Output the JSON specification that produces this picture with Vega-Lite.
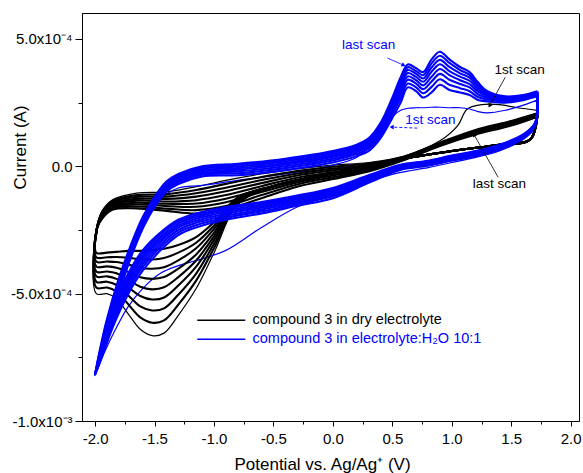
{
"$schema":"https://vega.github.io/schema/vega-lite/v6.json",
"width":497,"height":408,
"autosize":{"type":"none"},
"padding":{"left":82,"top":13,"right":4,"bottom":52},
"background":"white",
"config":{
"view":{"stroke":"black","strokeWidth":1},
"font":"Liberation Sans",
"axis":{"grid":false,"domainColor":"black","tickColor":"black","labelColor":"black","titleColor":"black","labelFont":"Liberation Sans","titleFont":"Liberation Sans","labelFontSize":15,"titleFontSize":17,"titleFontWeight":"normal","domainWidth":1,"tickWidth":1,"labelFlush":false,"labelOverlap":false}
},
"datasets":{
"cv":[
{"f":"d","s":1,"o":0,"x":1.72,"y":2.2},{"f":"d","s":1,"o":1,"x":1.66,"y":1.05},{"f":"d","s":1,"o":2,"x":1.4,"y":0.85},{"f":"d","s":1,"o":3,"x":1,"y":0.6},{"f":"d","s":1,"o":4,"x":0.6,"y":0.3},{"f":"d","s":1,"o":5,"x":0.2,"y":-0.1},{"f":"d","s":1,"o":6,"x":-0.2,"y":-0.45},{"f":"d","s":1,"o":7,"x":-0.5,"y":-0.78},{"f":"d","s":1,"o":8,"x":-0.8,"y":-1.5},{"f":"d","s":1,"o":9,"x":-1,"y":-3.4},{"f":"d","s":1,"o":10,"x":-1.15,"y":-4.8},{"f":"d","s":1,"o":11,"x":-1.3,"y":-5.85},{"f":"d","s":1,"o":12,"x":-1.42,"y":-6.55},{"f":"d","s":1,"o":13,"x":-1.52,"y":-6.65},{"f":"d","s":1,"o":14,"x":-1.62,"y":-6.4},{"f":"d","s":1,"o":15,"x":-1.72,"y":-5.8},{"f":"d","s":1,"o":16,"x":-1.82,"y":-5.2},{"f":"d","s":1,"o":17,"x":-1.9,"y":-5},{"f":"d","s":1,"o":18,"x":-1.99,"y":-5},{"f":"d","s":1,"o":19,"x":-1.985,"y":-2.45},{"f":"d","s":1,"o":20,"x":-1.94,"y":-1.75},{"f":"d","s":1,"o":21,"x":-1.85,"y":-1.3},{"f":"d","s":1,"o":22,"x":-1.65,"y":-1.05},{"f":"d","s":1,"o":23,"x":-1.4,"y":-1},{"f":"d","s":1,"o":24,"x":-1.15,"y":-0.8},{"f":"d","s":1,"o":25,"x":-0.9,"y":-0.55},{"f":"d","s":1,"o":26,"x":-0.6,"y":-0.3},{"f":"d","s":1,"o":27,"x":-0.3,"y":-0.1},{"f":"d","s":1,"o":28,"x":0,"y":0.05},{"f":"d","s":1,"o":29,"x":0.3,"y":0.15},{"f":"d","s":1,"o":30,"x":0.6,"y":0.4},{"f":"d","s":1,"o":31,"x":0.9,"y":1},{"f":"d","s":1,"o":32,"x":1.05,"y":1.6},{"f":"d","s":1,"o":33,"x":1.13,"y":2.25},{"f":"d","s":1,"o":34,"x":1.25,"y":2.42},{"f":"d","s":1,"o":35,"x":1.4,"y":2.42},{"f":"d","s":1,"o":36,"x":1.55,"y":2.3},{"f":"d","s":1,"o":37,"x":1.72,"y":2.2},
{"f":"d","s":2,"o":0,"x":1.72,"y":2.08},{"f":"d","s":2,"o":1,"x":1.66,"y":1.05},{"f":"d","s":2,"o":2,"x":1.4,"y":0.85},{"f":"d","s":2,"o":3,"x":1,"y":0.6},{"f":"d","s":2,"o":4,"x":0.6,"y":0.3},{"f":"d","s":2,"o":5,"x":0.2,"y":-0.1},{"f":"d","s":2,"o":6,"x":-0.2,"y":-0.45},{"f":"d","s":2,"o":7,"x":-0.5,"y":-0.78},{"f":"d","s":2,"o":8,"x":-0.8,"y":-1.46},{"f":"d","s":2,"o":9,"x":-1,"y":-3.22},{"f":"d","s":2,"o":10,"x":-1.15,"y":-4.49},{"f":"d","s":2,"o":11,"x":-1.3,"y":-5.43},{"f":"d","s":2,"o":12,"x":-1.42,"y":-6.05},{"f":"d","s":2,"o":13,"x":-1.52,"y":-6.14},{"f":"d","s":2,"o":14,"x":-1.62,"y":-5.93},{"f":"d","s":2,"o":15,"x":-1.72,"y":-5.42},{"f":"d","s":2,"o":16,"x":-1.82,"y":-4.92},{"f":"d","s":2,"o":17,"x":-1.9,"y":-4.76},{"f":"d","s":2,"o":18,"x":-1.99,"y":-4.76},{"f":"d","s":2,"o":19,"x":-1.985,"y":-2.45},{"f":"d","s":2,"o":20,"x":-1.94,"y":-1.79},{"f":"d","s":2,"o":21,"x":-1.85,"y":-1.35},{"f":"d","s":2,"o":22,"x":-1.65,"y":-1.13},{"f":"d","s":2,"o":23,"x":-1.4,"y":-1.09},{"f":"d","s":2,"o":24,"x":-1.15,"y":-0.93},{"f":"d","s":2,"o":25,"x":-0.9,"y":-0.69},{"f":"d","s":2,"o":26,"x":-0.6,"y":-0.42},{"f":"d","s":2,"o":27,"x":-0.3,"y":-0.19},{"f":"d","s":2,"o":28,"x":0,"y":-0.02},{"f":"d","s":2,"o":29,"x":0.3,"y":0.11},{"f":"d","s":2,"o":30,"x":0.6,"y":0.38},{"f":"d","s":2,"o":31,"x":0.9,"y":0.93},{"f":"d","s":2,"o":32,"x":1.2,"y":1.43},{"f":"d","s":2,"o":33,"x":1.5,"y":1.78},{"f":"d","s":2,"o":34,"x":1.72,"y":2.08},
{"f":"d","s":3,"o":0,"x":1.72,"y":2.06},{"f":"d","s":3,"o":1,"x":1.66,"y":1.05},{"f":"d","s":3,"o":2,"x":1.4,"y":0.85},{"f":"d","s":3,"o":3,"x":1,"y":0.6},{"f":"d","s":3,"o":4,"x":0.6,"y":0.3},{"f":"d","s":3,"o":5,"x":0.2,"y":-0.1},{"f":"d","s":3,"o":6,"x":-0.2,"y":-0.45},{"f":"d","s":3,"o":7,"x":-0.5,"y":-0.78},{"f":"d","s":3,"o":8,"x":-0.8,"y":-1.42},{"f":"d","s":3,"o":9,"x":-1,"y":-3.05},{"f":"d","s":3,"o":10,"x":-1.15,"y":-4.21},{"f":"d","s":3,"o":11,"x":-1.3,"y":-5.04},{"f":"d","s":3,"o":12,"x":-1.42,"y":-5.58},{"f":"d","s":3,"o":13,"x":-1.52,"y":-5.66},{"f":"d","s":3,"o":14,"x":-1.62,"y":-5.5},{"f":"d","s":3,"o":15,"x":-1.72,"y":-5.07},{"f":"d","s":3,"o":16,"x":-1.82,"y":-4.66},{"f":"d","s":3,"o":17,"x":-1.9,"y":-4.53},{"f":"d","s":3,"o":18,"x":-1.99,"y":-4.53},{"f":"d","s":3,"o":19,"x":-1.985,"y":-2.45},{"f":"d","s":3,"o":20,"x":-1.94,"y":-1.83},{"f":"d","s":3,"o":21,"x":-1.85,"y":-1.4},{"f":"d","s":3,"o":22,"x":-1.65,"y":-1.2},{"f":"d","s":3,"o":23,"x":-1.4,"y":-1.19},{"f":"d","s":3,"o":24,"x":-1.15,"y":-1.06},{"f":"d","s":3,"o":25,"x":-0.9,"y":-0.84},{"f":"d","s":3,"o":26,"x":-0.6,"y":-0.54},{"f":"d","s":3,"o":27,"x":-0.3,"y":-0.28},{"f":"d","s":3,"o":28,"x":0,"y":-0.09},{"f":"d","s":3,"o":29,"x":0.3,"y":0.06},{"f":"d","s":3,"o":30,"x":0.6,"y":0.36},{"f":"d","s":3,"o":31,"x":0.9,"y":0.91},{"f":"d","s":3,"o":32,"x":1.2,"y":1.4},{"f":"d","s":3,"o":33,"x":1.5,"y":1.75},{"f":"d","s":3,"o":34,"x":1.72,"y":2.06},
{"f":"d","s":4,"o":0,"x":1.72,"y":2.04},{"f":"d","s":4,"o":1,"x":1.66,"y":1.05},{"f":"d","s":4,"o":2,"x":1.4,"y":0.85},{"f":"d","s":4,"o":3,"x":1,"y":0.6},{"f":"d","s":4,"o":4,"x":0.6,"y":0.3},{"f":"d","s":4,"o":5,"x":0.2,"y":-0.1},{"f":"d","s":4,"o":6,"x":-0.2,"y":-0.45},{"f":"d","s":4,"o":7,"x":-0.5,"y":-0.78},{"f":"d","s":4,"o":8,"x":-0.8,"y":-1.38},{"f":"d","s":4,"o":9,"x":-1,"y":-2.89},{"f":"d","s":4,"o":10,"x":-1.15,"y":-3.94},{"f":"d","s":4,"o":11,"x":-1.3,"y":-4.68},{"f":"d","s":4,"o":12,"x":-1.42,"y":-5.15},{"f":"d","s":4,"o":13,"x":-1.52,"y":-5.23},{"f":"d","s":4,"o":14,"x":-1.62,"y":-5.09},{"f":"d","s":4,"o":15,"x":-1.72,"y":-4.75},{"f":"d","s":4,"o":16,"x":-1.82,"y":-4.42},{"f":"d","s":4,"o":17,"x":-1.9,"y":-4.32},{"f":"d","s":4,"o":18,"x":-1.99,"y":-4.32},{"f":"d","s":4,"o":19,"x":-1.985,"y":-2.45},{"f":"d","s":4,"o":20,"x":-1.94,"y":-1.86},{"f":"d","s":4,"o":21,"x":-1.85,"y":-1.45},{"f":"d","s":4,"o":22,"x":-1.65,"y":-1.28},{"f":"d","s":4,"o":23,"x":-1.4,"y":-1.28},{"f":"d","s":4,"o":24,"x":-1.15,"y":-1.19},{"f":"d","s":4,"o":25,"x":-0.9,"y":-0.98},{"f":"d","s":4,"o":26,"x":-0.6,"y":-0.66},{"f":"d","s":4,"o":27,"x":-0.3,"y":-0.36},{"f":"d","s":4,"o":28,"x":0,"y":-0.16},{"f":"d","s":4,"o":29,"x":0.3,"y":0.02},{"f":"d","s":4,"o":30,"x":0.6,"y":0.34},{"f":"d","s":4,"o":31,"x":0.9,"y":0.89},{"f":"d","s":4,"o":32,"x":1.2,"y":1.38},{"f":"d","s":4,"o":33,"x":1.5,"y":1.73},{"f":"d","s":4,"o":34,"x":1.72,"y":2.04},
{"f":"d","s":5,"o":0,"x":1.72,"y":2.03},{"f":"d","s":5,"o":1,"x":1.66,"y":1.05},{"f":"d","s":5,"o":2,"x":1.4,"y":0.85},{"f":"d","s":5,"o":3,"x":1,"y":0.6},{"f":"d","s":5,"o":4,"x":0.6,"y":0.3},{"f":"d","s":5,"o":5,"x":0.2,"y":-0.1},{"f":"d","s":5,"o":6,"x":-0.2,"y":-0.45},{"f":"d","s":5,"o":7,"x":-0.5,"y":-0.78},{"f":"d","s":5,"o":8,"x":-0.8,"y":-1.35},{"f":"d","s":5,"o":9,"x":-1,"y":-2.75},{"f":"d","s":5,"o":10,"x":-1.15,"y":-3.7},{"f":"d","s":5,"o":11,"x":-1.3,"y":-4.35},{"f":"d","s":5,"o":12,"x":-1.42,"y":-4.75},{"f":"d","s":5,"o":13,"x":-1.52,"y":-4.83},{"f":"d","s":5,"o":14,"x":-1.62,"y":-4.73},{"f":"d","s":5,"o":15,"x":-1.72,"y":-4.45},{"f":"d","s":5,"o":16,"x":-1.82,"y":-4.2},{"f":"d","s":5,"o":17,"x":-1.9,"y":-4.13},{"f":"d","s":5,"o":18,"x":-1.99,"y":-4.13},{"f":"d","s":5,"o":19,"x":-1.985,"y":-2.45},{"f":"d","s":5,"o":20,"x":-1.94,"y":-1.9},{"f":"d","s":5,"o":21,"x":-1.85,"y":-1.5},{"f":"d","s":5,"o":22,"x":-1.65,"y":-1.35},{"f":"d","s":5,"o":23,"x":-1.4,"y":-1.38},{"f":"d","s":5,"o":24,"x":-1.15,"y":-1.33},{"f":"d","s":5,"o":25,"x":-0.9,"y":-1.13},{"f":"d","s":5,"o":26,"x":-0.6,"y":-0.78},{"f":"d","s":5,"o":27,"x":-0.3,"y":-0.45},{"f":"d","s":5,"o":28,"x":0,"y":-0.23},{"f":"d","s":5,"o":29,"x":0.3,"y":-0.03},{"f":"d","s":5,"o":30,"x":0.6,"y":0.33},{"f":"d","s":5,"o":31,"x":0.9,"y":0.88},{"f":"d","s":5,"o":32,"x":1.2,"y":1.35},{"f":"d","s":5,"o":33,"x":1.5,"y":1.7},{"f":"d","s":5,"o":34,"x":1.72,"y":2.03},
{"f":"d","s":6,"o":0,"x":1.72,"y":2.01},{"f":"d","s":6,"o":1,"x":1.66,"y":1.05},{"f":"d","s":6,"o":2,"x":1.4,"y":0.85},{"f":"d","s":6,"o":3,"x":1,"y":0.6},{"f":"d","s":6,"o":4,"x":0.6,"y":0.3},{"f":"d","s":6,"o":5,"x":0.2,"y":-0.1},{"f":"d","s":6,"o":6,"x":-0.2,"y":-0.45},{"f":"d","s":6,"o":7,"x":-0.5,"y":-0.78},{"f":"d","s":6,"o":8,"x":-0.8,"y":-1.32},{"f":"d","s":6,"o":9,"x":-1,"y":-2.61},{"f":"d","s":6,"o":10,"x":-1.15,"y":-3.46},{"f":"d","s":6,"o":11,"x":-1.3,"y":-4.02},{"f":"d","s":6,"o":12,"x":-1.42,"y":-4.35},{"f":"d","s":6,"o":13,"x":-1.52,"y":-4.42},{"f":"d","s":6,"o":14,"x":-1.62,"y":-4.36},{"f":"d","s":6,"o":15,"x":-1.72,"y":-4.15},{"f":"d","s":6,"o":16,"x":-1.82,"y":-3.98},{"f":"d","s":6,"o":17,"x":-1.9,"y":-3.93},{"f":"d","s":6,"o":18,"x":-1.99,"y":-3.93},{"f":"d","s":6,"o":19,"x":-1.985,"y":-2.45},{"f":"d","s":6,"o":20,"x":-1.94,"y":-1.94},{"f":"d","s":6,"o":21,"x":-1.85,"y":-1.55},{"f":"d","s":6,"o":22,"x":-1.65,"y":-1.43},{"f":"d","s":6,"o":23,"x":-1.4,"y":-1.47},{"f":"d","s":6,"o":24,"x":-1.15,"y":-1.46},{"f":"d","s":6,"o":25,"x":-0.9,"y":-1.27},{"f":"d","s":6,"o":26,"x":-0.6,"y":-0.89},{"f":"d","s":6,"o":27,"x":-0.3,"y":-0.54},{"f":"d","s":6,"o":28,"x":0,"y":-0.29},{"f":"d","s":6,"o":29,"x":0.3,"y":-0.07},{"f":"d","s":6,"o":30,"x":0.6,"y":0.31},{"f":"d","s":6,"o":31,"x":0.9,"y":0.86},{"f":"d","s":6,"o":32,"x":1.2,"y":1.33},{"f":"d","s":6,"o":33,"x":1.5,"y":1.68},{"f":"d","s":6,"o":34,"x":1.72,"y":2.01},
{"f":"d","s":7,"o":0,"x":1.72,"y":1.99},{"f":"d","s":7,"o":1,"x":1.66,"y":1.05},{"f":"d","s":7,"o":2,"x":1.4,"y":0.85},{"f":"d","s":7,"o":3,"x":1,"y":0.6},{"f":"d","s":7,"o":4,"x":0.6,"y":0.3},{"f":"d","s":7,"o":5,"x":0.2,"y":-0.1},{"f":"d","s":7,"o":6,"x":-0.2,"y":-0.45},{"f":"d","s":7,"o":7,"x":-0.5,"y":-0.78},{"f":"d","s":7,"o":8,"x":-0.8,"y":-1.28},{"f":"d","s":7,"o":9,"x":-1,"y":-2.46},{"f":"d","s":7,"o":10,"x":-1.15,"y":-3.22},{"f":"d","s":7,"o":11,"x":-1.3,"y":-3.69},{"f":"d","s":7,"o":12,"x":-1.42,"y":-3.96},{"f":"d","s":7,"o":13,"x":-1.52,"y":-4.02},{"f":"d","s":7,"o":14,"x":-1.62,"y":-3.99},{"f":"d","s":7,"o":15,"x":-1.72,"y":-3.86},{"f":"d","s":7,"o":16,"x":-1.82,"y":-3.76},{"f":"d","s":7,"o":17,"x":-1.9,"y":-3.74},{"f":"d","s":7,"o":18,"x":-1.99,"y":-3.74},{"f":"d","s":7,"o":19,"x":-1.985,"y":-2.45},{"f":"d","s":7,"o":20,"x":-1.94,"y":-1.98},{"f":"d","s":7,"o":21,"x":-1.85,"y":-1.6},{"f":"d","s":7,"o":22,"x":-1.65,"y":-1.5},{"f":"d","s":7,"o":23,"x":-1.4,"y":-1.56},{"f":"d","s":7,"o":24,"x":-1.15,"y":-1.59},{"f":"d","s":7,"o":25,"x":-0.9,"y":-1.41},{"f":"d","s":7,"o":26,"x":-0.6,"y":-1.01},{"f":"d","s":7,"o":27,"x":-0.3,"y":-0.63},{"f":"d","s":7,"o":28,"x":0,"y":-0.36},{"f":"d","s":7,"o":29,"x":0.3,"y":-0.11},{"f":"d","s":7,"o":30,"x":0.6,"y":0.29},{"f":"d","s":7,"o":31,"x":0.9,"y":0.84},{"f":"d","s":7,"o":32,"x":1.2,"y":1.3},{"f":"d","s":7,"o":33,"x":1.5,"y":1.65},{"f":"d","s":7,"o":34,"x":1.72,"y":1.99},
{"f":"d","s":8,"o":0,"x":1.72,"y":1.97},{"f":"d","s":8,"o":1,"x":1.66,"y":1.05},{"f":"d","s":8,"o":2,"x":1.4,"y":0.85},{"f":"d","s":8,"o":3,"x":1,"y":0.6},{"f":"d","s":8,"o":4,"x":0.6,"y":0.3},{"f":"d","s":8,"o":5,"x":0.2,"y":-0.1},{"f":"d","s":8,"o":6,"x":-0.2,"y":-0.45},{"f":"d","s":8,"o":7,"x":-0.5,"y":-0.78},{"f":"d","s":8,"o":8,"x":-0.8,"y":-1.25},{"f":"d","s":8,"o":9,"x":-1,"y":-2.33},{"f":"d","s":8,"o":10,"x":-1.15,"y":-3},{"f":"d","s":8,"o":11,"x":-1.3,"y":-3.39},{"f":"d","s":8,"o":12,"x":-1.42,"y":-3.6},{"f":"d","s":8,"o":13,"x":-1.52,"y":-3.66},{"f":"d","s":8,"o":14,"x":-1.62,"y":-3.65},{"f":"d","s":8,"o":15,"x":-1.72,"y":-3.59},{"f":"d","s":8,"o":16,"x":-1.82,"y":-3.56},{"f":"d","s":8,"o":17,"x":-1.9,"y":-3.57},{"f":"d","s":8,"o":18,"x":-1.99,"y":-3.57},{"f":"d","s":8,"o":19,"x":-1.985,"y":-2.45},{"f":"d","s":8,"o":20,"x":-1.94,"y":-2.01},{"f":"d","s":8,"o":21,"x":-1.85,"y":-1.65},{"f":"d","s":8,"o":22,"x":-1.65,"y":-1.58},{"f":"d","s":8,"o":23,"x":-1.4,"y":-1.66},{"f":"d","s":8,"o":24,"x":-1.15,"y":-1.72},{"f":"d","s":8,"o":25,"x":-0.9,"y":-1.56},{"f":"d","s":8,"o":26,"x":-0.6,"y":-1.13},{"f":"d","s":8,"o":27,"x":-0.3,"y":-0.71},{"f":"d","s":8,"o":28,"x":0,"y":-0.43},{"f":"d","s":8,"o":29,"x":0.3,"y":-0.16},{"f":"d","s":8,"o":30,"x":0.6,"y":0.27},{"f":"d","s":8,"o":31,"x":0.9,"y":0.82},{"f":"d","s":8,"o":32,"x":1.2,"y":1.28},{"f":"d","s":8,"o":33,"x":1.5,"y":1.63},{"f":"d","s":8,"o":34,"x":1.72,"y":1.97},
{"f":"d","s":9,"o":0,"x":1.72,"y":1.95},{"f":"d","s":9,"o":1,"x":1.66,"y":1.05},{"f":"d","s":9,"o":2,"x":1.4,"y":0.85},{"f":"d","s":9,"o":3,"x":1,"y":0.6},{"f":"d","s":9,"o":4,"x":0.6,"y":0.3},{"f":"d","s":9,"o":5,"x":0.2,"y":-0.1},{"f":"d","s":9,"o":6,"x":-0.2,"y":-0.45},{"f":"d","s":9,"o":7,"x":-0.5,"y":-0.78},{"f":"d","s":9,"o":8,"x":-0.8,"y":-1.22},{"f":"d","s":9,"o":9,"x":-1,"y":-2.2},{"f":"d","s":9,"o":10,"x":-1.15,"y":-2.78},{"f":"d","s":9,"o":11,"x":-1.3,"y":-3.09},{"f":"d","s":9,"o":12,"x":-1.42,"y":-3.24},{"f":"d","s":9,"o":13,"x":-1.52,"y":-3.29},{"f":"d","s":9,"o":14,"x":-1.62,"y":-3.32},{"f":"d","s":9,"o":15,"x":-1.72,"y":-3.32},{"f":"d","s":9,"o":16,"x":-1.82,"y":-3.36},{"f":"d","s":9,"o":17,"x":-1.9,"y":-3.39},{"f":"d","s":9,"o":18,"x":-1.99,"y":-3.39},{"f":"d","s":9,"o":19,"x":-1.985,"y":-2.45},{"f":"d","s":9,"o":20,"x":-1.94,"y":-2.05},{"f":"d","s":9,"o":21,"x":-1.85,"y":-1.7},{"f":"d","s":9,"o":22,"x":-1.65,"y":-1.65},{"f":"d","s":9,"o":23,"x":-1.4,"y":-1.75},{"f":"d","s":9,"o":24,"x":-1.15,"y":-1.85},{"f":"d","s":9,"o":25,"x":-0.9,"y":-1.7},{"f":"d","s":9,"o":26,"x":-0.6,"y":-1.25},{"f":"d","s":9,"o":27,"x":-0.3,"y":-0.8},{"f":"d","s":9,"o":28,"x":0,"y":-0.5},{"f":"d","s":9,"o":29,"x":0.3,"y":-0.2},{"f":"d","s":9,"o":30,"x":0.6,"y":0.25},{"f":"d","s":9,"o":31,"x":0.9,"y":0.8},{"f":"d","s":9,"o":32,"x":1.2,"y":1.25},{"f":"d","s":9,"o":33,"x":1.5,"y":1.6},{"f":"d","s":9,"o":34,"x":1.72,"y":1.95},
{"f":"w","s":1,"o":0,"x":1.72,"y":2.6},{"f":"w","s":1,"o":1,"x":1.7,"y":1.5},{"f":"w","s":1,"o":2,"x":1.6,"y":1.05},{"f":"w","s":1,"o":3,"x":1.4,"y":0.6},{"f":"w","s":1,"o":4,"x":1.2,"y":0.35},{"f":"w","s":1,"o":5,"x":1,"y":0.15},{"f":"w","s":1,"o":6,"x":0.8,"y":-0.05},{"f":"w","s":1,"o":7,"x":0.56,"y":-0.25},{"f":"w","s":1,"o":8,"x":0.3,"y":-0.6},{"f":"w","s":1,"o":9,"x":0,"y":-1.1},{"f":"w","s":1,"o":10,"x":-0.3,"y":-1.6},{"f":"w","s":1,"o":11,"x":-0.6,"y":-2.4},{"f":"w","s":1,"o":12,"x":-0.9,"y":-3.3},{"f":"w","s":1,"o":13,"x":-1.15,"y":-3.7},{"f":"w","s":1,"o":14,"x":-1.3,"y":-3.9},{"f":"w","s":1,"o":15,"x":-1.45,"y":-4.2},{"f":"w","s":1,"o":16,"x":-1.6,"y":-4.8},{"f":"w","s":1,"o":17,"x":-1.72,"y":-5.5},{"f":"w","s":1,"o":18,"x":-1.85,"y":-6.6},{"f":"w","s":1,"o":19,"x":-1.95,"y":-7.6},{"f":"w","s":1,"o":20,"x":-2,"y":-8.15},{"f":"w","s":1,"o":21,"x":-1.95,"y":-7.3},{"f":"w","s":1,"o":22,"x":-1.9,"y":-6.4},{"f":"w","s":1,"o":23,"x":-1.8,"y":-4.9},{"f":"w","s":1,"o":24,"x":-1.7,"y":-3.5},{"f":"w","s":1,"o":25,"x":-1.6,"y":-2.4},{"f":"w","s":1,"o":26,"x":-1.5,"y":-1.6},{"f":"w","s":1,"o":27,"x":-1.4,"y":-1.1},{"f":"w","s":1,"o":28,"x":-1.3,"y":-0.85},{"f":"w","s":1,"o":29,"x":-1.1,"y":-0.75},{"f":"w","s":1,"o":30,"x":-0.8,"y":-0.55},{"f":"w","s":1,"o":31,"x":-0.4,"y":-0.3},{"f":"w","s":1,"o":32,"x":0,"y":0.05},{"f":"w","s":1,"o":33,"x":0.2,"y":0.35},{"f":"w","s":1,"o":34,"x":0.3,"y":0.75},{"f":"w","s":1,"o":35,"x":0.4,"y":1.4},{"f":"w","s":1,"o":36,"x":0.5,"y":1.95},{"f":"w","s":1,"o":37,"x":0.57,"y":2.2},{"f":"w","s":1,"o":38,"x":0.63,"y":2.28},{"f":"w","s":1,"o":39,"x":0.7,"y":2.3},{"f":"w","s":1,"o":40,"x":0.76,"y":2.3},{"f":"w","s":1,"o":41,"x":0.83,"y":2.32},{"f":"w","s":1,"o":42,"x":0.9,"y":2.32},{"f":"w","s":1,"o":43,"x":0.98,"y":2.3},{"f":"w","s":1,"o":44,"x":1.07,"y":2.3},{"f":"w","s":1,"o":45,"x":1.15,"y":2.25},{"f":"w","s":1,"o":46,"x":1.22,"y":2.15},{"f":"w","s":1,"o":47,"x":1.3,"y":2.1},{"f":"w","s":1,"o":48,"x":1.45,"y":2.2},{"f":"w","s":1,"o":49,"x":1.6,"y":2.4},{"f":"w","s":1,"o":50,"x":1.72,"y":2.6},
{"f":"w","s":2,"o":0,"x":1.72,"y":2.75},{"f":"w","s":2,"o":1,"x":1.7,"y":1.6},{"f":"w","s":2,"o":2,"x":1.6,"y":1.1},{"f":"w","s":2,"o":3,"x":1.4,"y":0.65},{"f":"w","s":2,"o":4,"x":1.2,"y":0.4},{"f":"w","s":2,"o":5,"x":1,"y":0.22},{"f":"w","s":2,"o":6,"x":0.8,"y":0.02},{"f":"w","s":2,"o":7,"x":0.56,"y":-0.15},{"f":"w","s":2,"o":8,"x":0.3,"y":-0.65},{"f":"w","s":2,"o":9,"x":0,"y":-1.25},{"f":"w","s":2,"o":10,"x":-0.3,"y":-1.55},{"f":"w","s":2,"o":11,"x":-0.6,"y":-1.85},{"f":"w","s":2,"o":12,"x":-0.9,"y":-2.1},{"f":"w","s":2,"o":13,"x":-1.15,"y":-2.4},{"f":"w","s":2,"o":14,"x":-1.3,"y":-2.7},{"f":"w","s":2,"o":15,"x":-1.45,"y":-3.3},{"f":"w","s":2,"o":16,"x":-1.6,"y":-4.1},{"f":"w","s":2,"o":17,"x":-1.72,"y":-5},{"f":"w","s":2,"o":18,"x":-1.85,"y":-6.3},{"f":"w","s":2,"o":19,"x":-1.95,"y":-7.6},{"f":"w","s":2,"o":20,"x":-2,"y":-8.2},{"f":"w","s":2,"o":21,"x":-1.95,"y":-7.5},{"f":"w","s":2,"o":22,"x":-1.9,"y":-6.6},{"f":"w","s":2,"o":23,"x":-1.8,"y":-5},{"f":"w","s":2,"o":24,"x":-1.7,"y":-3.6},{"f":"w","s":2,"o":25,"x":-1.6,"y":-2.45},{"f":"w","s":2,"o":26,"x":-1.5,"y":-1.6},{"f":"w","s":2,"o":27,"x":-1.4,"y":-1},{"f":"w","s":2,"o":28,"x":-1.3,"y":-0.7},{"f":"w","s":2,"o":29,"x":-1.1,"y":-0.4},{"f":"w","s":2,"o":30,"x":-0.8,"y":-0.35},{"f":"w","s":2,"o":31,"x":-0.4,"y":-0.15},{"f":"w","s":2,"o":32,"x":0,"y":0.15},{"f":"w","s":2,"o":33,"x":0.2,"y":0.4},{"f":"w","s":2,"o":34,"x":0.3,"y":0.6},{"f":"w","s":2,"o":35,"x":0.4,"y":1.1},{"f":"w","s":2,"o":36,"x":0.5,"y":1.9},{"f":"w","s":2,"o":37,"x":0.57,"y":2.5},{"f":"w","s":2,"o":38,"x":0.63,"y":3.1},{"f":"w","s":2,"o":39,"x":0.7,"y":2.95},{"f":"w","s":2,"o":40,"x":0.76,"y":2.7},{"f":"w","s":2,"o":41,"x":0.83,"y":2.9},{"f":"w","s":2,"o":42,"x":0.9,"y":3.2},{"f":"w","s":2,"o":43,"x":0.98,"y":3},{"f":"w","s":2,"o":44,"x":1.07,"y":2.9},{"f":"w","s":2,"o":45,"x":1.15,"y":2.8},{"f":"w","s":2,"o":46,"x":1.22,"y":2.6},{"f":"w","s":2,"o":47,"x":1.3,"y":2.55},{"f":"w","s":2,"o":48,"x":1.45,"y":2.5},{"f":"w","s":2,"o":49,"x":1.6,"y":2.6},{"f":"w","s":2,"o":50,"x":1.72,"y":2.75},
{"f":"w","s":3,"o":0,"x":1.72,"y":2.78},{"f":"w","s":3,"o":1,"x":1.7,"y":1.62},{"f":"w","s":3,"o":2,"x":1.6,"y":1.13},{"f":"w","s":3,"o":3,"x":1.4,"y":0.68},{"f":"w","s":3,"o":4,"x":1.2,"y":0.43},{"f":"w","s":3,"o":5,"x":1,"y":0.25},{"f":"w","s":3,"o":6,"x":0.8,"y":0.05},{"f":"w","s":3,"o":7,"x":0.56,"y":-0.12},{"f":"w","s":3,"o":8,"x":0.3,"y":-0.6},{"f":"w","s":3,"o":9,"x":0,"y":-1.18},{"f":"w","s":3,"o":10,"x":-0.3,"y":-1.48},{"f":"w","s":3,"o":11,"x":-0.6,"y":-1.77},{"f":"w","s":3,"o":12,"x":-0.9,"y":-2.02},{"f":"w","s":3,"o":13,"x":-1.15,"y":-2.31},{"f":"w","s":3,"o":14,"x":-1.3,"y":-2.6},{"f":"w","s":3,"o":15,"x":-1.45,"y":-3.18},{"f":"w","s":3,"o":16,"x":-1.6,"y":-3.96},{"f":"w","s":3,"o":17,"x":-1.72,"y":-4.86},{"f":"w","s":3,"o":18,"x":-1.85,"y":-6.18},{"f":"w","s":3,"o":19,"x":-1.95,"y":-7.52},{"f":"w","s":3,"o":20,"x":-2,"y":-8.18},{"f":"w","s":3,"o":21,"x":-1.95,"y":-7.42},{"f":"w","s":3,"o":22,"x":-1.9,"y":-6.5},{"f":"w","s":3,"o":23,"x":-1.8,"y":-4.9},{"f":"w","s":3,"o":24,"x":-1.7,"y":-3.52},{"f":"w","s":3,"o":25,"x":-1.6,"y":-2.37},{"f":"w","s":3,"o":26,"x":-1.5,"y":-1.53},{"f":"w","s":3,"o":27,"x":-1.4,"y":-0.93},{"f":"w","s":3,"o":28,"x":-1.3,"y":-0.63},{"f":"w","s":3,"o":29,"x":-1.1,"y":-0.33},{"f":"w","s":3,"o":30,"x":-0.8,"y":-0.27},{"f":"w","s":3,"o":31,"x":-0.4,"y":-0.07},{"f":"w","s":3,"o":32,"x":0,"y":0.23},{"f":"w","s":3,"o":33,"x":0.2,"y":0.48},{"f":"w","s":3,"o":34,"x":0.3,"y":0.69},{"f":"w","s":3,"o":35,"x":0.4,"y":1.2},{"f":"w","s":3,"o":36,"x":0.5,"y":2.04},{"f":"w","s":3,"o":37,"x":0.57,"y":2.67},{"f":"w","s":3,"o":38,"x":0.63,"y":3.25},{"f":"w","s":3,"o":39,"x":0.7,"y":3.1},{"f":"w","s":3,"o":40,"x":0.76,"y":2.87},{"f":"w","s":3,"o":41,"x":0.83,"y":3.12},{"f":"w","s":3,"o":42,"x":0.9,"y":3.42},{"f":"w","s":3,"o":43,"x":0.98,"y":3.2},{"f":"w","s":3,"o":44,"x":1.07,"y":3.07},{"f":"w","s":3,"o":45,"x":1.15,"y":2.95},{"f":"w","s":3,"o":46,"x":1.22,"y":2.72},{"f":"w","s":3,"o":47,"x":1.3,"y":2.62},{"f":"w","s":3,"o":48,"x":1.45,"y":2.54},{"f":"w","s":3,"o":49,"x":1.6,"y":2.63},{"f":"w","s":3,"o":50,"x":1.72,"y":2.78},
{"f":"w","s":4,"o":0,"x":1.72,"y":2.82},{"f":"w","s":4,"o":1,"x":1.7,"y":1.63},{"f":"w","s":4,"o":2,"x":1.6,"y":1.15},{"f":"w","s":4,"o":3,"x":1.4,"y":0.72},{"f":"w","s":4,"o":4,"x":1.2,"y":0.47},{"f":"w","s":4,"o":5,"x":1,"y":0.29},{"f":"w","s":4,"o":6,"x":0.8,"y":0.09},{"f":"w","s":4,"o":7,"x":0.56,"y":-0.08},{"f":"w","s":4,"o":8,"x":0.3,"y":-0.55},{"f":"w","s":4,"o":9,"x":0,"y":-1.12},{"f":"w","s":4,"o":10,"x":-0.3,"y":-1.42},{"f":"w","s":4,"o":11,"x":-0.6,"y":-1.7},{"f":"w","s":4,"o":12,"x":-0.9,"y":-1.94},{"f":"w","s":4,"o":13,"x":-1.15,"y":-2.22},{"f":"w","s":4,"o":14,"x":-1.3,"y":-2.5},{"f":"w","s":4,"o":15,"x":-1.45,"y":-3.07},{"f":"w","s":4,"o":16,"x":-1.6,"y":-3.84},{"f":"w","s":4,"o":17,"x":-1.72,"y":-4.74},{"f":"w","s":4,"o":18,"x":-1.85,"y":-6.07},{"f":"w","s":4,"o":19,"x":-1.95,"y":-7.44},{"f":"w","s":4,"o":20,"x":-2,"y":-8.17},{"f":"w","s":4,"o":21,"x":-1.95,"y":-7.34},{"f":"w","s":4,"o":22,"x":-1.9,"y":-6.4},{"f":"w","s":4,"o":23,"x":-1.8,"y":-4.8},{"f":"w","s":4,"o":24,"x":-1.7,"y":-3.44},{"f":"w","s":4,"o":25,"x":-1.6,"y":-2.3},{"f":"w","s":4,"o":26,"x":-1.5,"y":-1.47},{"f":"w","s":4,"o":27,"x":-1.4,"y":-0.87},{"f":"w","s":4,"o":28,"x":-1.3,"y":-0.57},{"f":"w","s":4,"o":29,"x":-1.1,"y":-0.27},{"f":"w","s":4,"o":30,"x":-0.8,"y":-0.2},{"f":"w","s":4,"o":31,"x":-0.4,"y":0},{"f":"w","s":4,"o":32,"x":0,"y":0.3},{"f":"w","s":4,"o":33,"x":0.2,"y":0.55},{"f":"w","s":4,"o":34,"x":0.3,"y":0.77},{"f":"w","s":4,"o":35,"x":0.4,"y":1.3},{"f":"w","s":4,"o":36,"x":0.5,"y":2.16},{"f":"w","s":4,"o":37,"x":0.57,"y":2.83},{"f":"w","s":4,"o":38,"x":0.63,"y":3.4},{"f":"w","s":4,"o":39,"x":0.7,"y":3.25},{"f":"w","s":4,"o":40,"x":0.76,"y":3.03},{"f":"w","s":4,"o":41,"x":0.83,"y":3.33},{"f":"w","s":4,"o":42,"x":0.9,"y":3.63},{"f":"w","s":4,"o":43,"x":0.98,"y":3.4},{"f":"w","s":4,"o":44,"x":1.07,"y":3.23},{"f":"w","s":4,"o":45,"x":1.15,"y":3.1},{"f":"w","s":4,"o":46,"x":1.22,"y":2.83},{"f":"w","s":4,"o":47,"x":1.3,"y":2.68},{"f":"w","s":4,"o":48,"x":1.45,"y":2.58},{"f":"w","s":4,"o":49,"x":1.6,"y":2.67},{"f":"w","s":4,"o":50,"x":1.72,"y":2.82},
{"f":"w","s":5,"o":0,"x":1.72,"y":2.85},{"f":"w","s":5,"o":1,"x":1.7,"y":1.65},{"f":"w","s":5,"o":2,"x":1.6,"y":1.17},{"f":"w","s":5,"o":3,"x":1.4,"y":0.75},{"f":"w","s":5,"o":4,"x":1.2,"y":0.5},{"f":"w","s":5,"o":5,"x":1,"y":0.32},{"f":"w","s":5,"o":6,"x":0.8,"y":0.12},{"f":"w","s":5,"o":7,"x":0.56,"y":-0.05},{"f":"w","s":5,"o":8,"x":0.3,"y":-0.51},{"f":"w","s":5,"o":9,"x":0,"y":-1.06},{"f":"w","s":5,"o":10,"x":-0.3,"y":-1.36},{"f":"w","s":5,"o":11,"x":-0.6,"y":-1.63},{"f":"w","s":5,"o":12,"x":-0.9,"y":-1.86},{"f":"w","s":5,"o":13,"x":-1.15,"y":-2.14},{"f":"w","s":5,"o":14,"x":-1.3,"y":-2.41},{"f":"w","s":5,"o":15,"x":-1.45,"y":-2.96},{"f":"w","s":5,"o":16,"x":-1.6,"y":-3.72},{"f":"w","s":5,"o":17,"x":-1.72,"y":-4.62},{"f":"w","s":5,"o":18,"x":-1.85,"y":-5.96},{"f":"w","s":5,"o":19,"x":-1.95,"y":-7.36},{"f":"w","s":5,"o":20,"x":-2,"y":-8.16},{"f":"w","s":5,"o":21,"x":-1.95,"y":-7.26},{"f":"w","s":5,"o":22,"x":-1.9,"y":-6.31},{"f":"w","s":5,"o":23,"x":-1.8,"y":-4.71},{"f":"w","s":5,"o":24,"x":-1.7,"y":-3.36},{"f":"w","s":5,"o":25,"x":-1.6,"y":-2.23},{"f":"w","s":5,"o":26,"x":-1.5,"y":-1.41},{"f":"w","s":5,"o":27,"x":-1.4,"y":-0.81},{"f":"w","s":5,"o":28,"x":-1.3,"y":-0.51},{"f":"w","s":5,"o":29,"x":-1.1,"y":-0.21},{"f":"w","s":5,"o":30,"x":-0.8,"y":-0.13},{"f":"w","s":5,"o":31,"x":-0.4,"y":0.07},{"f":"w","s":5,"o":32,"x":0,"y":0.37},{"f":"w","s":5,"o":33,"x":0.2,"y":0.62},{"f":"w","s":5,"o":34,"x":0.3,"y":0.84},{"f":"w","s":5,"o":35,"x":0.4,"y":1.39},{"f":"w","s":5,"o":36,"x":0.5,"y":2.28},{"f":"w","s":5,"o":37,"x":0.57,"y":2.98},{"f":"w","s":5,"o":38,"x":0.63,"y":3.53},{"f":"w","s":5,"o":39,"x":0.7,"y":3.38},{"f":"w","s":5,"o":40,"x":0.76,"y":3.18},{"f":"w","s":5,"o":41,"x":0.83,"y":3.52},{"f":"w","s":5,"o":42,"x":0.9,"y":3.82},{"f":"w","s":5,"o":43,"x":0.98,"y":3.58},{"f":"w","s":5,"o":44,"x":1.07,"y":3.38},{"f":"w","s":5,"o":45,"x":1.15,"y":3.23},{"f":"w","s":5,"o":46,"x":1.22,"y":2.94},{"f":"w","s":5,"o":47,"x":1.3,"y":2.74},{"f":"w","s":5,"o":48,"x":1.45,"y":2.62},{"f":"w","s":5,"o":49,"x":1.6,"y":2.7},{"f":"w","s":5,"o":50,"x":1.72,"y":2.85},
{"f":"w","s":6,"o":0,"x":1.72,"y":2.87},{"f":"w","s":6,"o":1,"x":1.7,"y":1.66},{"f":"w","s":6,"o":2,"x":1.6,"y":1.19},{"f":"w","s":6,"o":3,"x":1.4,"y":0.77},{"f":"w","s":6,"o":4,"x":1.2,"y":0.52},{"f":"w","s":6,"o":5,"x":1,"y":0.34},{"f":"w","s":6,"o":6,"x":0.8,"y":0.14},{"f":"w","s":6,"o":7,"x":0.56,"y":-0.03},{"f":"w","s":6,"o":8,"x":0.3,"y":-0.46},{"f":"w","s":6,"o":9,"x":0,"y":-1},{"f":"w","s":6,"o":10,"x":-0.3,"y":-1.3},{"f":"w","s":6,"o":11,"x":-0.6,"y":-1.57},{"f":"w","s":6,"o":12,"x":-0.9,"y":-1.79},{"f":"w","s":6,"o":13,"x":-1.15,"y":-2.06},{"f":"w","s":6,"o":14,"x":-1.3,"y":-2.33},{"f":"w","s":6,"o":15,"x":-1.45,"y":-2.87},{"f":"w","s":6,"o":16,"x":-1.6,"y":-3.6},{"f":"w","s":6,"o":17,"x":-1.72,"y":-4.5},{"f":"w","s":6,"o":18,"x":-1.85,"y":-5.87},{"f":"w","s":6,"o":19,"x":-1.95,"y":-7.29},{"f":"w","s":6,"o":20,"x":-2,"y":-8.15},{"f":"w","s":6,"o":21,"x":-1.95,"y":-7.19},{"f":"w","s":6,"o":22,"x":-1.9,"y":-6.23},{"f":"w","s":6,"o":23,"x":-1.8,"y":-4.63},{"f":"w","s":6,"o":24,"x":-1.7,"y":-3.29},{"f":"w","s":6,"o":25,"x":-1.6,"y":-2.17},{"f":"w","s":6,"o":26,"x":-1.5,"y":-1.35},{"f":"w","s":6,"o":27,"x":-1.4,"y":-0.75},{"f":"w","s":6,"o":28,"x":-1.3,"y":-0.45},{"f":"w","s":6,"o":29,"x":-1.1,"y":-0.15},{"f":"w","s":6,"o":30,"x":-0.8,"y":-0.07},{"f":"w","s":6,"o":31,"x":-0.4,"y":0.13},{"f":"w","s":6,"o":32,"x":0,"y":0.43},{"f":"w","s":6,"o":33,"x":0.2,"y":0.68},{"f":"w","s":6,"o":34,"x":0.3,"y":0.91},{"f":"w","s":6,"o":35,"x":0.4,"y":1.47},{"f":"w","s":6,"o":36,"x":0.5,"y":2.4},{"f":"w","s":6,"o":37,"x":0.57,"y":3.12},{"f":"w","s":6,"o":38,"x":0.63,"y":3.66},{"f":"w","s":6,"o":39,"x":0.7,"y":3.51},{"f":"w","s":6,"o":40,"x":0.76,"y":3.32},{"f":"w","s":6,"o":41,"x":0.83,"y":3.71},{"f":"w","s":6,"o":42,"x":0.9,"y":4.01},{"f":"w","s":6,"o":43,"x":0.98,"y":3.74},{"f":"w","s":6,"o":44,"x":1.07,"y":3.52},{"f":"w","s":6,"o":45,"x":1.15,"y":3.36},{"f":"w","s":6,"o":46,"x":1.22,"y":3.03},{"f":"w","s":6,"o":47,"x":1.3,"y":2.8},{"f":"w","s":6,"o":48,"x":1.45,"y":2.66},{"f":"w","s":6,"o":49,"x":1.6,"y":2.72},{"f":"w","s":6,"o":50,"x":1.72,"y":2.87},
{"f":"w","s":7,"o":0,"x":1.72,"y":2.9},{"f":"w","s":7,"o":1,"x":1.7,"y":1.68},{"f":"w","s":7,"o":2,"x":1.6,"y":1.21},{"f":"w","s":7,"o":3,"x":1.4,"y":0.8},{"f":"w","s":7,"o":4,"x":1.2,"y":0.55},{"f":"w","s":7,"o":5,"x":1,"y":0.37},{"f":"w","s":7,"o":6,"x":0.8,"y":0.17},{"f":"w","s":7,"o":7,"x":0.56,"y":0},{"f":"w","s":7,"o":8,"x":0.3,"y":-0.43},{"f":"w","s":7,"o":9,"x":0,"y":-0.95},{"f":"w","s":7,"o":10,"x":-0.3,"y":-1.25},{"f":"w","s":7,"o":11,"x":-0.6,"y":-1.51},{"f":"w","s":7,"o":12,"x":-0.9,"y":-1.73},{"f":"w","s":7,"o":13,"x":-1.15,"y":-1.99},{"f":"w","s":7,"o":14,"x":-1.3,"y":-2.25},{"f":"w","s":7,"o":15,"x":-1.45,"y":-2.78},{"f":"w","s":7,"o":16,"x":-1.6,"y":-3.5},{"f":"w","s":7,"o":17,"x":-1.72,"y":-4.4},{"f":"w","s":7,"o":18,"x":-1.85,"y":-5.78},{"f":"w","s":7,"o":19,"x":-1.95,"y":-7.23},{"f":"w","s":7,"o":20,"x":-2,"y":-8.15},{"f":"w","s":7,"o":21,"x":-1.95,"y":-7.13},{"f":"w","s":7,"o":22,"x":-1.9,"y":-6.15},{"f":"w","s":7,"o":23,"x":-1.8,"y":-4.55},{"f":"w","s":7,"o":24,"x":-1.7,"y":-3.23},{"f":"w","s":7,"o":25,"x":-1.6,"y":-2.11},{"f":"w","s":7,"o":26,"x":-1.5,"y":-1.3},{"f":"w","s":7,"o":27,"x":-1.4,"y":-0.7},{"f":"w","s":7,"o":28,"x":-1.3,"y":-0.4},{"f":"w","s":7,"o":29,"x":-1.1,"y":-0.1},{"f":"w","s":7,"o":30,"x":-0.8,"y":-0.01},{"f":"w","s":7,"o":31,"x":-0.4,"y":0.19},{"f":"w","s":7,"o":32,"x":0,"y":0.49},{"f":"w","s":7,"o":33,"x":0.2,"y":0.74},{"f":"w","s":7,"o":34,"x":0.3,"y":0.98},{"f":"w","s":7,"o":35,"x":0.4,"y":1.55},{"f":"w","s":7,"o":36,"x":0.5,"y":2.5},{"f":"w","s":7,"o":37,"x":0.57,"y":3.25},{"f":"w","s":7,"o":38,"x":0.63,"y":3.78},{"f":"w","s":7,"o":39,"x":0.7,"y":3.63},{"f":"w","s":7,"o":40,"x":0.76,"y":3.45},{"f":"w","s":7,"o":41,"x":0.83,"y":3.88},{"f":"w","s":7,"o":42,"x":0.9,"y":4.18},{"f":"w","s":7,"o":43,"x":0.98,"y":3.9},{"f":"w","s":7,"o":44,"x":1.07,"y":3.65},{"f":"w","s":7,"o":45,"x":1.15,"y":3.48},{"f":"w","s":7,"o":46,"x":1.22,"y":3.13},{"f":"w","s":7,"o":47,"x":1.3,"y":2.85},{"f":"w","s":7,"o":48,"x":1.45,"y":2.69},{"f":"w","s":7,"o":49,"x":1.6,"y":2.75},{"f":"w","s":7,"o":50,"x":1.72,"y":2.9},
{"f":"w","s":8,"o":0,"x":1.72,"y":2.93},{"f":"w","s":8,"o":1,"x":1.7,"y":1.69},{"f":"w","s":8,"o":2,"x":1.6,"y":1.23},{"f":"w","s":8,"o":3,"x":1.4,"y":0.83},{"f":"w","s":8,"o":4,"x":1.2,"y":0.58},{"f":"w","s":8,"o":5,"x":1,"y":0.4},{"f":"w","s":8,"o":6,"x":0.8,"y":0.2},{"f":"w","s":8,"o":7,"x":0.56,"y":0.03},{"f":"w","s":8,"o":8,"x":0.3,"y":-0.39},{"f":"w","s":8,"o":9,"x":0,"y":-0.9},{"f":"w","s":8,"o":10,"x":-0.3,"y":-1.2},{"f":"w","s":8,"o":11,"x":-0.6,"y":-1.45},{"f":"w","s":8,"o":12,"x":-0.9,"y":-1.66},{"f":"w","s":8,"o":13,"x":-1.15,"y":-1.92},{"f":"w","s":8,"o":14,"x":-1.3,"y":-2.17},{"f":"w","s":8,"o":15,"x":-1.45,"y":-2.68},{"f":"w","s":8,"o":16,"x":-1.6,"y":-3.4},{"f":"w","s":8,"o":17,"x":-1.72,"y":-4.3},{"f":"w","s":8,"o":18,"x":-1.85,"y":-5.68},{"f":"w","s":8,"o":19,"x":-1.95,"y":-7.16},{"f":"w","s":8,"o":20,"x":-2,"y":-8.15},{"f":"w","s":8,"o":21,"x":-1.95,"y":-7.06},{"f":"w","s":8,"o":22,"x":-1.9,"y":-6.07},{"f":"w","s":8,"o":23,"x":-1.8,"y":-4.47},{"f":"w","s":8,"o":24,"x":-1.7,"y":-3.16},{"f":"w","s":8,"o":25,"x":-1.6,"y":-2.05},{"f":"w","s":8,"o":26,"x":-1.5,"y":-1.25},{"f":"w","s":8,"o":27,"x":-1.4,"y":-0.65},{"f":"w","s":8,"o":28,"x":-1.3,"y":-0.35},{"f":"w","s":8,"o":29,"x":-1.1,"y":-0.05},{"f":"w","s":8,"o":30,"x":-0.8,"y":0.05},{"f":"w","s":8,"o":31,"x":-0.4,"y":0.25},{"f":"w","s":8,"o":32,"x":0,"y":0.55},{"f":"w","s":8,"o":33,"x":0.2,"y":0.8},{"f":"w","s":8,"o":34,"x":0.3,"y":1.04},{"f":"w","s":8,"o":35,"x":0.4,"y":1.63},{"f":"w","s":8,"o":36,"x":0.5,"y":2.6},{"f":"w","s":8,"o":37,"x":0.57,"y":3.38},{"f":"w","s":8,"o":38,"x":0.63,"y":3.89},{"f":"w","s":8,"o":39,"x":0.7,"y":3.74},{"f":"w","s":8,"o":40,"x":0.76,"y":3.58},{"f":"w","s":8,"o":41,"x":0.83,"y":4.04},{"f":"w","s":8,"o":42,"x":0.9,"y":4.34},{"f":"w","s":8,"o":43,"x":0.98,"y":4.06},{"f":"w","s":8,"o":44,"x":1.07,"y":3.78},{"f":"w","s":8,"o":45,"x":1.15,"y":3.59},{"f":"w","s":8,"o":46,"x":1.22,"y":3.22},{"f":"w","s":8,"o":47,"x":1.3,"y":2.9},{"f":"w","s":8,"o":48,"x":1.45,"y":2.72},{"f":"w","s":8,"o":49,"x":1.6,"y":2.78},{"f":"w","s":8,"o":50,"x":1.72,"y":2.93},
{"f":"w","s":9,"o":0,"x":1.72,"y":2.95},{"f":"w","s":9,"o":1,"x":1.7,"y":1.7},{"f":"w","s":9,"o":2,"x":1.6,"y":1.25},{"f":"w","s":9,"o":3,"x":1.4,"y":0.85},{"f":"w","s":9,"o":4,"x":1.2,"y":0.6},{"f":"w","s":9,"o":5,"x":1,"y":0.42},{"f":"w","s":9,"o":6,"x":0.8,"y":0.22},{"f":"w","s":9,"o":7,"x":0.56,"y":0.05},{"f":"w","s":9,"o":8,"x":0.3,"y":-0.35},{"f":"w","s":9,"o":9,"x":0,"y":-0.85},{"f":"w","s":9,"o":10,"x":-0.3,"y":-1.15},{"f":"w","s":9,"o":11,"x":-0.6,"y":-1.4},{"f":"w","s":9,"o":12,"x":-0.9,"y":-1.6},{"f":"w","s":9,"o":13,"x":-1.15,"y":-1.85},{"f":"w","s":9,"o":14,"x":-1.3,"y":-2.1},{"f":"w","s":9,"o":15,"x":-1.45,"y":-2.6},{"f":"w","s":9,"o":16,"x":-1.6,"y":-3.3},{"f":"w","s":9,"o":17,"x":-1.72,"y":-4.2},{"f":"w","s":9,"o":18,"x":-1.85,"y":-5.6},{"f":"w","s":9,"o":19,"x":-1.95,"y":-7.1},{"f":"w","s":9,"o":20,"x":-2,"y":-8.15},{"f":"w","s":9,"o":21,"x":-1.95,"y":-7},{"f":"w","s":9,"o":22,"x":-1.9,"y":-6},{"f":"w","s":9,"o":23,"x":-1.8,"y":-4.4},{"f":"w","s":9,"o":24,"x":-1.7,"y":-3.1},{"f":"w","s":9,"o":25,"x":-1.6,"y":-2},{"f":"w","s":9,"o":26,"x":-1.5,"y":-1.2},{"f":"w","s":9,"o":27,"x":-1.4,"y":-0.6},{"f":"w","s":9,"o":28,"x":-1.3,"y":-0.3},{"f":"w","s":9,"o":29,"x":-1.1,"y":0},{"f":"w","s":9,"o":30,"x":-0.8,"y":0.1},{"f":"w","s":9,"o":31,"x":-0.4,"y":0.3},{"f":"w","s":9,"o":32,"x":0,"y":0.6},{"f":"w","s":9,"o":33,"x":0.2,"y":0.85},{"f":"w","s":9,"o":34,"x":0.3,"y":1.1},{"f":"w","s":9,"o":35,"x":0.4,"y":1.7},{"f":"w","s":9,"o":36,"x":0.5,"y":2.7},{"f":"w","s":9,"o":37,"x":0.57,"y":3.5},{"f":"w","s":9,"o":38,"x":0.63,"y":4},{"f":"w","s":9,"o":39,"x":0.7,"y":3.85},{"f":"w","s":9,"o":40,"x":0.76,"y":3.7},{"f":"w","s":9,"o":41,"x":0.83,"y":4.2},{"f":"w","s":9,"o":42,"x":0.9,"y":4.5},{"f":"w","s":9,"o":43,"x":0.98,"y":4.2},{"f":"w","s":9,"o":44,"x":1.07,"y":3.9},{"f":"w","s":9,"o":45,"x":1.15,"y":3.7},{"f":"w","s":9,"o":46,"x":1.22,"y":3.3},{"f":"w","s":9,"o":47,"x":1.3,"y":2.95},{"f":"w","s":9,"o":48,"x":1.45,"y":2.75},{"f":"w","s":9,"o":49,"x":1.6,"y":2.8},{"f":"w","s":9,"o":50,"x":1.72,"y":2.95}
],
"notes":[
{"f":"w","t":"last scan","x":0.3,"y":4.76},
{"f":"w","t":"1st scan","x":0.82,"y":1.81},
{"f":"d","t":"1st scan","x":1.57,"y":3.78},
{"f":"d","t":"last scan","x":1.4,"y":-0.71}
],
"arrows":[
{"id":1,"f":"w","x":0.46,"y":4.25,"x2":0.59,"y2":3.98},
{"id":2,"f":"w","x":0.71,"y":1.5,"x2":0.5,"y2":1.54},
{"id":3,"f":"d","x":1.45,"y":3.5,"x2":1.32,"y2":2.4},
{"id":4,"f":"d","x":1.39,"y":-0.43,"x2":1.19,"y2":1.22}
]
},
"layer":[
{"data":{"name":"cv"},
 "transform":[{"filter":"datum.s==1"}],
 "mark":{"type":"line","interpolate":"catmull-rom","strokeWidth":1.2,"clip":true},
 "encoding":{
  "x":{"field":"x","type":"quantitative","scale":{"domain":[-2.11,2.07],"nice":false,"zero":false},
   "axis":{"values":[-2,-1.5,-1,-0.5,0,0.5,1,1.5,2],"labelExpr":"(datum.value<0?'-':'')+format(abs(datum.value),'.1f')","tickSize":5,"labelPadding":5,"title":"Potential vs. Ag/Ag⁺ (V)","titleX":240,"titleY":48,"titleAlign":"center","titleBaseline":"alphabetic"}},
  "y":{"field":"y","type":"quantitative","scale":{"domain":[-10,6.02],"nice":false,"zero":false},
   "axis":{"values":[-10,-5,0,5],"labelExpr":"datum.value==5?'5.0x10⁻⁴':datum.value==0?'0.0':datum.value==-5?'-5.0x10⁻⁴':'-1.0x10⁻³'","tickSize":7,"labelPadding":3,"title":"Current (A)","titleX":-62,"titleY":134,"titleAngle":-90,"titleAlign":"center","titleBaseline":"middle"}},
  "color":{"field":"f","type":"nominal","scale":{"domain":["d","w"],"range":["#000000","#0000ff"]},
   "legend":{"orient":"none","legendX":132,"legendY":300,"title":null,"symbolType":"M-4,0H4","symbolSize":144,"symbolStrokeWidth":1.5,"labelOffset":24,"labelFontSize":14.5,"labelFont":"Liberation Sans","labelLimit":400,"padding":0,"rowPadding":4,
    "labelExpr":"datum.value=='d'?'compound 3 in dry electrolyte':'compound 3 in electrolyte:H₂O 10:1'",
    "labelColor":{"expr":"datum.value=='w'?'#0000ff':'#000000'"}}},
  "detail":{"field":"s","type":"nominal"},
  "order":{"field":"o","type":"quantitative"}
 }},
{"data":{"name":"cv"},
 "transform":[{"filter":"datum.s>1"}],
 "mark":{"type":"line","interpolate":"catmull-rom","strokeWidth":2.1,"clip":true},
 "encoding":{
  "x":{"field":"x","type":"quantitative","axis":null},
  "y":{"field":"y","type":"quantitative","axis":null},
  "color":{"field":"f","type":"nominal"},
  "detail":{"field":"s","type":"nominal"},
  "order":{"field":"o","type":"quantitative"}
 }},
{"data":{"name":"arrows"},
 "transform":[{"filter":"datum.id!=2"}],
 "mark":{"type":"rule","strokeWidth":0.8},
 "encoding":{
  "x":{"field":"x","type":"quantitative","axis":{"orient":"bottom","values":[-1.75,-1.25,-0.75,-0.25,0.25,0.75,1.25,1.75],"tickSize":3,"labels":false,"domain":false,"title":null}},
  "y":{"field":"y","type":"quantitative","axis":{"orient":"left","values":[-7.5,-2.5,2.5],"tickSize":4,"labels":false,"domain":false,"title":null}},
  "x2":{"field":"x2"},"y2":{"field":"y2"},
  "color":{"field":"f","type":"nominal"}
 }},
{"data":{"name":"arrows"},
 "transform":[{"filter":"datum.id==2"}],
 "mark":{"type":"rule","strokeWidth":0.9,"strokeDash":[3,2]},
 "encoding":{
  "x":{"field":"x","type":"quantitative","axis":null},
  "y":{"field":"y","type":"quantitative","axis":null},
  "x2":{"field":"x2"},"y2":{"field":"y2"},
  "color":{"field":"f","type":"nominal"}
 }},
{"data":{"name":"arrows"},"transform":[{"filter":"datum.id==1"}],
 "mark":{"type":"point","shape":"triangle","angle":115,"filled":true,"size":22,"opacity":1},
 "encoding":{"x":{"field":"x2","type":"quantitative","axis":null},"y":{"field":"y2","type":"quantitative","axis":null},"color":{"field":"f","type":"nominal"}}},
{"data":{"name":"arrows"},"transform":[{"filter":"datum.id==2"}],
 "mark":{"type":"point","shape":"triangle","angle":270,"filled":true,"size":22,"opacity":1},
 "encoding":{"x":{"field":"x2","type":"quantitative","axis":null},"y":{"field":"y2","type":"quantitative","axis":null},"color":{"field":"f","type":"nominal"}}},
{"data":{"name":"arrows"},"transform":[{"filter":"datum.id==3"}],
 "mark":{"type":"point","shape":"triangle","angle":210,"filled":true,"size":22,"opacity":1},
 "encoding":{"x":{"field":"x2","type":"quantitative","axis":null},"y":{"field":"y2","type":"quantitative","axis":null},"color":{"field":"f","type":"nominal"}}},
{"data":{"name":"arrows"},"transform":[{"filter":"datum.id==4"}],
 "mark":{"type":"point","shape":"triangle","angle":331,"filled":true,"size":22,"opacity":1},
 "encoding":{"x":{"field":"x2","type":"quantitative","axis":null},"y":{"field":"y2","type":"quantitative","axis":null},"color":{"field":"f","type":"nominal"}}},
{"data":{"name":"notes"},
 "mark":{"type":"text","fontSize":13.5,"font":"Liberation Sans","align":"center","baseline":"middle"},
 "encoding":{
  "x":{"field":"x","type":"quantitative","axis":null},
  "y":{"field":"y","type":"quantitative","axis":null},
  "text":{"field":"t"},
  "color":{"field":"f","type":"nominal"}
 }}
],
"resolve":{"axis":{"x":"independent","y":"independent"}}
}
